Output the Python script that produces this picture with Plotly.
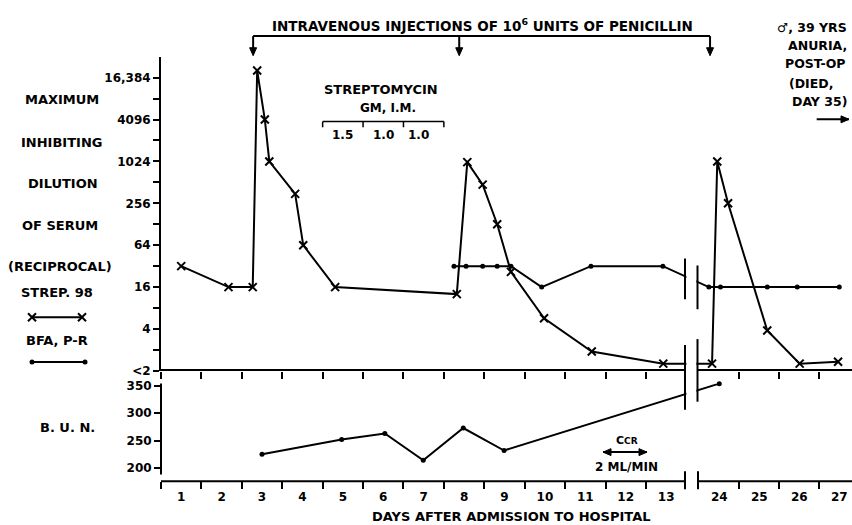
import math
import plotly.graph_objects as go

W, H = 852, 525          # reference picture size (layout coordinates below)
FIG_H = 533              # figure height (captured area is squeezed back to 525)

# ---------------- data ----------------
strep_day = [1.0, 2.17, 2.77, 2.88, 3.07, 3.18, 3.82, 4.02, 4.81, 7.82, 8.08, 8.46, 8.82,
             9.16, 9.98, 11.16, 12.93, 23.82, 23.95, 24.22, 25.2, 26.01, 26.97]
strep_val = [32, 16, 16, 20700, 4096, 1024, 350, 64, 16, 12.7, 1000, 475, 128,
             26.5, 5.7, 1.9, 1.27, 1.27, 1024, 256, 3.8, 1.27, 1.35]

bfa_day = [7.75, 8.05, 8.46, 8.82, 9.16, 9.92, 11.14, 12.92, 23.74, 24.03, 25.2, 25.95, 27.0]
bfa_val = [32, 32, 32, 32, 32, 16, 32, 32, 16, 16, 16, 16, 16]

bun_day = [3.0, 4.97, 6.04, 6.99, 7.98, 8.99, 24.0]
bun_val = [225, 252, 263, 214, 273, 232, 354]

day_labels = [1, 2, 3, 4, 5, 6, 7, 8, 9, 10, 11, 12, 13, 24, 25, 26, 27]
day_tick_edges = [0.5, 1.5, 2.5, 3.5, 4.5, 5.5, 6.5, 7.5, 8.5, 9.5, 10.5, 11.5, 12.5,
                  24.5, 25.5, 26.5]
dil_ticks = [1, 4, 16, 64, 256, 1024, 4096, 16384]
dil_text = ['<2', '4', '16', '64', '256', '1024', '4096', '16,384']
dil_minor = [2, 8, 32, 128, 512, 2048, 8192]
bun_ticks = [200, 250, 300, 350]

injection_days = [2.78, 7.88, 23.77]
dose_edges = [4.5, 5.5, 6.5, 7.5]
dose_label_days = [5.0, 6.0, 6.88]
dose_labels = ['1.5', '1.0', '1.0']

left_labels = ['MAXIMUM', 'INHIBITING', 'DILUTION', 'OF SERUM', '(RECIPROCAL)']

# ---------------- broken-axis transform ----------------
RIGHT_START_DAY = 23.5
RIGHT_START_POS = 13.82
RIGHT_SCALE = 0.99


def pos(d):
    if d <= 13.6:
        return d
    return RIGHT_START_POS + (d - RIGHT_START_DAY) * RIGHT_SCALE


def fx(px):
    return px / W


def fy(py):
    return 1 - py / H


FONT = dict(family='DejaVu Sans', size=12, color='black', weight='bold')
BLACK = 'black'

fig = go.Figure()

fig.add_trace(go.Scatter(
    x=[pos(d) for d in strep_day], y=strep_val, mode='lines+markers',
    line=dict(color=BLACK, width=2),
    marker=dict(symbol='x-thin', size=8, color=BLACK, line=dict(width=2, color=BLACK)),
    xaxis='x', yaxis='y', cliponaxis=False, showlegend=False, name='STREP. 98'))
fig.add_trace(go.Scatter(
    x=[pos(d) for d in bfa_day], y=bfa_val, mode='lines+markers',
    line=dict(color=BLACK, width=2),
    marker=dict(symbol='circle', size=5, color=BLACK),
    xaxis='x', yaxis='y', cliponaxis=False, showlegend=False, name='BFA, P-R'))
fig.add_trace(go.Scatter(
    x=[pos(d) for d in bun_day], y=bun_val, mode='lines+markers',
    line=dict(color=BLACK, width=2),
    marker=dict(symbol='circle', size=5, color=BLACK),
    xaxis='x2', yaxis='y2', cliponaxis=False, showlegend=False, name='B.U.N.'))

# legend keys (pixel-space helper axes in left margin)
fig.add_trace(go.Scatter(
    x=[32, 82], y=[315, 315], mode='lines+markers',
    line=dict(color=BLACK, width=2),
    marker=dict(symbol='x-thin', size=8, color=BLACK, line=dict(width=2, color=BLACK)),
    xaxis='x3', yaxis='y3', cliponaxis=False, showlegend=False, hoverinfo='skip'))
fig.add_trace(go.Scatter(
    x=[32, 85], y=[360, 360], mode='lines+markers',
    line=dict(color=BLACK, width=2),
    marker=dict(symbol='circle', size=5, color=BLACK),
    xaxis='x3', yaxis='y3', cliponaxis=False, showlegend=False, hoverinfo='skip'))

XR = [0.5, 17.6]
xdom = [fx(161), 1]
tick_pos = [pos(d) for d in day_tick_edges]

fig.update_layout(
    width=W, height=FIG_H,
    margin=dict(l=0, r=0, t=0, b=0, pad=0),
    paper_bgcolor='white', plot_bgcolor='rgba(0,0,0,0)',
    font=FONT,
    xaxis=dict(domain=xdom, range=XR, anchor='y', showgrid=False, zeroline=False,
               showline=False, tickmode='array', tickvals=tick_pos, ticks='outside',
               ticklen=7, tickwidth=2, tickcolor=BLACK, showticklabels=False),
    yaxis=dict(domain=[fy(369), fy(53)], type='log', range=[0, 15 * math.log10(2)],
               anchor='x', showgrid=False, zeroline=False, showline=True, linewidth=2,
               linecolor=BLACK, tickmode='array', tickvals=dil_ticks, ticktext=dil_text,
               ticks='outside', ticklen=6, tickwidth=2, tickcolor=BLACK,
               tickfont=FONT,
               minor=dict(tickmode='array', tickvals=dil_minor, ticks='outside',
                          ticklen=6, tickwidth=2, tickcolor=BLACK)),
    xaxis2=dict(domain=xdom, range=XR, anchor='y2', showgrid=False, zeroline=False,
                showline=False, tickmode='array', tickvals=[pos(d) for d in day_labels],
                ticktext=[str(d) for d in day_labels], ticks='', tickfont=FONT,
                ticklabelstandoff=7,
                minor=dict(tickmode='array', tickvals=tick_pos, ticks='outside',
                           ticklen=7, tickwidth=2, tickcolor=BLACK)),
    yaxis2=dict(domain=[fy(480), fy(381.7)], range=[175.9, 354.2], anchor='x2',
                showgrid=False, zeroline=False, showline=False, tickmode='array',
                tickvals=bun_ticks, ticks='outside', ticklen=6, tickwidth=2,
                tickcolor=BLACK, tickfont=FONT),
    xaxis3=dict(domain=[0, fx(153)], range=[0, 153], visible=False, anchor='y3'),
    yaxis3=dict(domain=[0, 1], range=[H, 0], visible=False, anchor='x3'),
)

shapes = []


def pline(x0, y0, x1, y1, w=2):
    shapes.append(dict(type='line', xref='paper', yref='paper', x0=fx(x0), y0=fy(y0),
                       x1=fx(x1), y1=fy(y1), line=dict(color=BLACK, width=w), layer='above'))


def ptri(pts):
    path = 'M ' + ' L '.join('%.5f,%.5f' % (fx(a), fy(b)) for a, b in pts) + ' Z'
    shapes.append(dict(type='path', xref='paper', yref='paper', path=path,
                       fillcolor=BLACK, line=dict(color=BLACK, width=1), layer='above'))


def arrow_down(xp, y_top, y_tip):
    pline(xp, y_top, xp, y_tip - 5)
    ptri([(xp - 3.5, y_tip - 8), (xp + 3.5, y_tip - 8), (xp, y_tip)])


def arrow_h(x_from, x_to, y, both=False):
    pline(x_from, y, x_to, y)
    d = 1 if x_to > x_from else -1
    ptri([(x_to - d * 8, y - 3.5), (x_to - d * 8, y + 3.5), (x_to, y)])
    if both:
        ptri([(x_from + d * 8, y - 3.5), (x_from + d * 8, y + 3.5), (x_from, y)])


def xpix(p):
    return 161 + (p - XR[0]) * (W - 161) / (XR[1] - XR[0])


# axis lines with break
pline(161, 368, 685, 368)
pline(697.5, 368, 852, 368)
pline(161, 480, 685, 480)
pline(698, 480, 852, 480)
pline(161, 381.7, 161, 473.3)
# white gap at the break
shapes.append(dict(type='rect', xref='paper', yref='paper', x0=fx(686.4), x1=fx(696.4),
                   y0=fy(476), y1=fy(55), fillcolor='white', line=dict(width=0),
                   layer='above'))
# break bars
pline(685, 256, 685, 297)
pline(697.5, 263, 697.5, 307)
pline(685, 343, 685, 408)
pline(697.5, 337, 697.5, 400)
pline(685, 470, 685, 488)
pline(698, 470, 698, 488)

# penicillin bracket and arrows
pline(xpix(pos(injection_days[0])), 32.3, xpix(pos(injection_days[-1])), 32.3)
for d in injection_days:
    arrow_down(xpix(pos(d)), 32.3, 52)

# streptomycin bracket
shapes.append(dict(type='line', xref='x', yref='paper', x0=dose_edges[0], x1=dose_edges[-1],
                   y0=fy(118.3), y1=fy(118.3), line=dict(color=BLACK, width=1.5)))
for e in dose_edges:
    shapes.append(dict(type='line', xref='x', yref='paper', x0=e, x1=e,
                       y0=fy(118.3), y1=fy(124), line=dict(color=BLACK, width=1.5)))

# Ccr double arrow and right arrow
arrow_h(603, 647, 450.7, both=True)
arrow_h(816.7, 849, 116)

annotations = []


def txt(s, x, y, xanchor='center', size=12):
    f = dict(FONT)
    f['size'] = size
    annotations.append(dict(text=s, x=fx(x), y=fy(y), xref='paper', yref='paper',
                            xanchor=xanchor, yanchor='middle', showarrow=False, font=f))


txt('INTRAVENOUS INJECTIONS OF 10<sup>6</sup> UNITS OF PENICILLIN', 482.5, 21.5, size=13.5)

for s, x, y in zip(left_labels, [62, 62, 63, 60, 60], [96, 139, 180.5, 222.5, 264]):
    txt(s, x, y, size=13)
txt('STREP. 98', 57, 290.5, size=13)
txt('BFA, P-R', 57, 338, size=13)
txt('B. U. N.', 67, 425.7, size=13)

txt('STREPTOMYCIN', 381, 86, size=13)
txt('GM, I.M.', 388, 105, size=12)
for d, s in zip(dose_label_days, dose_labels):
    annotations.append(dict(text=s, x=d, y=fy(131.7), xref='x', yref='paper',
                            xanchor='center', yanchor='middle', showarrow=False, font=FONT))

txt("C<span style='font-size:9px'>CR</span>", 626.7, 439.3, size=11)
txt('2 ML/MIN', 626.7, 466, size=12)

txt('\u2642, 39 YRS', 775, 24, xanchor='left', size=12.5)
txt('ANURIA,', 817, 41.7, size=12.5)
txt('POST-OP', 815, 60, size=12.5)
txt('(DIED,', 787, 80, xanchor='left', size=12.5)
txt('DAY 35)', 790, 97.7, xanchor='left', size=12.5)

txt('DAYS AFTER ADMISSION TO HOSPITAL', 511, 515.5, size=13)

fig.update_layout(shapes=shapes, annotations=annotations)

fig.write_html(
    'out.html',
    config={'displayModeBar': False},
    post_script=(
        "var s=document.createElement('style');"
        "s.textContent='html,body{margin:0;padding:0;overflow:hidden;}';"
        "document.head.appendChild(s);"
    ))
